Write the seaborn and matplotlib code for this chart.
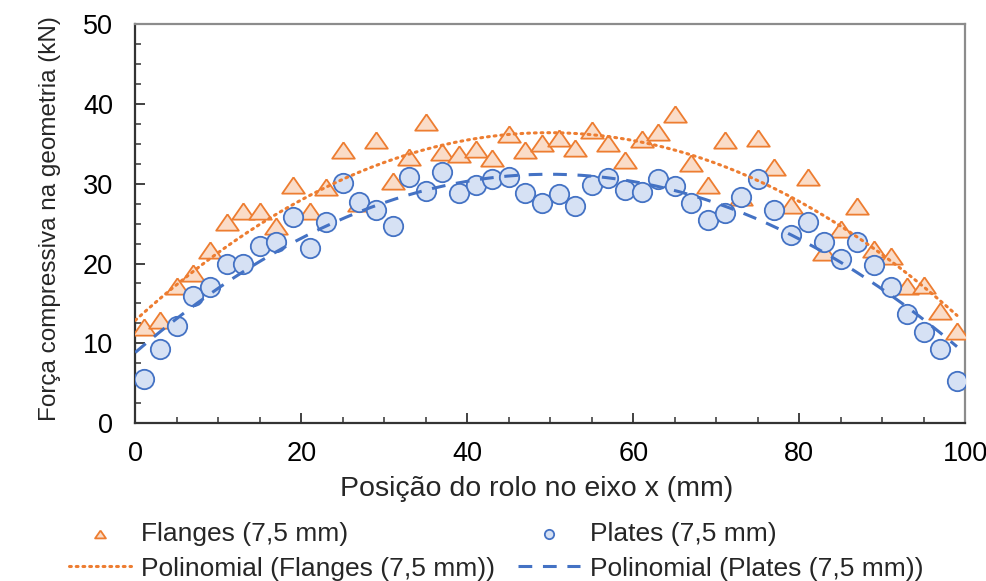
import numpy as np
import pandas as pd
import matplotlib
matplotlib.use("Agg")
import matplotlib.pyplot as plt
import seaborn as sns
from matplotlib.ticker import MultipleLocator

x_pos = list(range(1, 100, 2))
flanges = [12.0, 12.9, 17.2, 18.8, 21.7, 25.2, 26.6, 26.6, 24.7, 29.8,
           26.6, 29.6, 34.2, 27.6, 35.5, 30.3, 33.4, 37.8, 34.0, 33.7,
           34.4, 33.3, 36.3, 34.3, 35.1, 35.8, 34.5, 36.7, 35.1, 33.0,
           35.6, 36.5, 38.8, 32.6, 29.9, 35.5, 28.4, 35.8, 32.1, 27.3,
           30.8, 21.5, 24.3, 27.2, 21.8, 20.9, 17.2, 17.3, 14.0, 11.6]
plates = [5.5, 9.3, 12.2, 15.9, 17.0, 20.0, 20.0, 22.2, 22.7, 25.8,
          21.9, 25.2, 30.1, 27.7, 26.7, 24.7, 30.8, 29.1, 31.5, 28.8,
          29.9, 30.6, 30.8, 28.8, 27.6, 28.7, 27.2, 29.9, 30.7, 29.2,
          29.0, 30.6, 29.7, 27.6, 25.4, 26.4, 28.4, 30.6, 26.7, 23.6,
          25.2, 22.7, 20.6, 22.7, 19.8, 17.0, 13.7, 11.4, 9.3, 5.3]

lab_f = "Flanges (7,5 mm)"
lab_p = "Plates (7,5 mm)"
lab_pf = "Polinomial (Flanges (7,5 mm))"
lab_pp = "Polinomial (Plates (7,5 mm))"

orange = "#ED7D31"
blue = "#4472C4"

sns.set_theme(style="white")
plt.rcParams["font.family"] = ["Liberation Sans", "DejaVu Sans"]

fig = plt.figure(figsize=(9.87, 5.81), dpi=100)
ax = fig.add_axes([0.137, 0.272, 0.841, 0.686])

df = pd.DataFrame({"x": x_pos, "Flanges": flanges, "Plates": plates})

# polynomial trend lines (order 2)
xf = np.linspace(0, 99, 200)
cf = np.polyfit(df["x"], df["Flanges"], 2)
cp = np.polyfit(df["x"], df["Plates"], 2)
trend = pd.DataFrame({"x": xf, "pf": np.polyval(cf, xf), "pp": np.polyval(cp, xf)})

tri = [(0, 0.72), (-1, -0.72), (1, -0.72), (0, 0.72)]
sns.scatterplot(data=df, x="x", y="Flanges", ax=ax, marker=tri, s=265,
                color="#FADCC8", edgecolor=orange, linewidth=1.3, label=lab_f, zorder=3)
sns.scatterplot(data=df, x="x", y="Plates", ax=ax, marker="o", s=195,
                color="#D6E1F4", edgecolor=blue, linewidth=1.3, label=lab_p, zorder=3)
sns.lineplot(data=trend, x="x", y="pf", ax=ax, color=orange, lw=2.2,
             linestyle=(0, (0.6, 1.6)), dash_capstyle="round", label=lab_pf, zorder=4)
sns.lineplot(data=trend, x="x", y="pp", ax=ax, color=blue, lw=2.2,
             linestyle=(0, (4.5, 3.5)), label=lab_pp, zorder=4)

ax.set_xlim(0, 100)
ax.set_ylim(0, 50)
ax.xaxis.set_major_locator(MultipleLocator(20))
ax.xaxis.set_minor_locator(MultipleLocator(5))
ax.yaxis.set_major_locator(MultipleLocator(10))
ax.yaxis.set_minor_locator(MultipleLocator(2.5))
ax.tick_params(which="major", direction="in", length=7, width=1.3, labelsize=19.5,
               colors="#333333", labelcolor="black", bottom=True, left=True)
ax.tick_params(axis="y", which="major", pad=16)
ax.tick_params(axis="x", which="major", pad=13)
ax.tick_params(which="minor", direction="in", length=4.5, width=1.1,
               colors="#333333", bottom=True, left=True)
for side in ["left", "bottom"]:
    ax.spines[side].set_color("#333333")
    ax.spines[side].set_linewidth(1.6)
for side in ["top", "right"]:
    ax.spines[side].set_color("#8C8C8C")
    ax.spines[side].set_linewidth(1.6)

ax.set_xlabel("Posição do rolo no eixo x (mm)", fontsize=20.5)
ax.set_ylabel("Força compressiva na geometria (kN)", fontsize=17.5)
ax.xaxis.set_label_coords(0.484, -0.132)
ax.yaxis.set_label_coords(-0.090, 0.513)

ax.legend_.remove()
h, l = ax.get_legend_handles_labels()
order = [l.index(lab_f), l.index(lab_pf), l.index(lab_p), l.index(lab_pp)]
leg = fig.legend([h[i] for i in order], [l[i] for i in order], ncol=2,
                 loc="lower left", bbox_to_anchor=(0.051, -0.031), frameon=False,
                 fontsize=19, markerscale=0.48, handlelength=2.35, borderpad=0.2,
                 columnspacing=0.85, handletextpad=0.4, labelspacing=0.4)

fig.savefig("out.png", dpi=100)
